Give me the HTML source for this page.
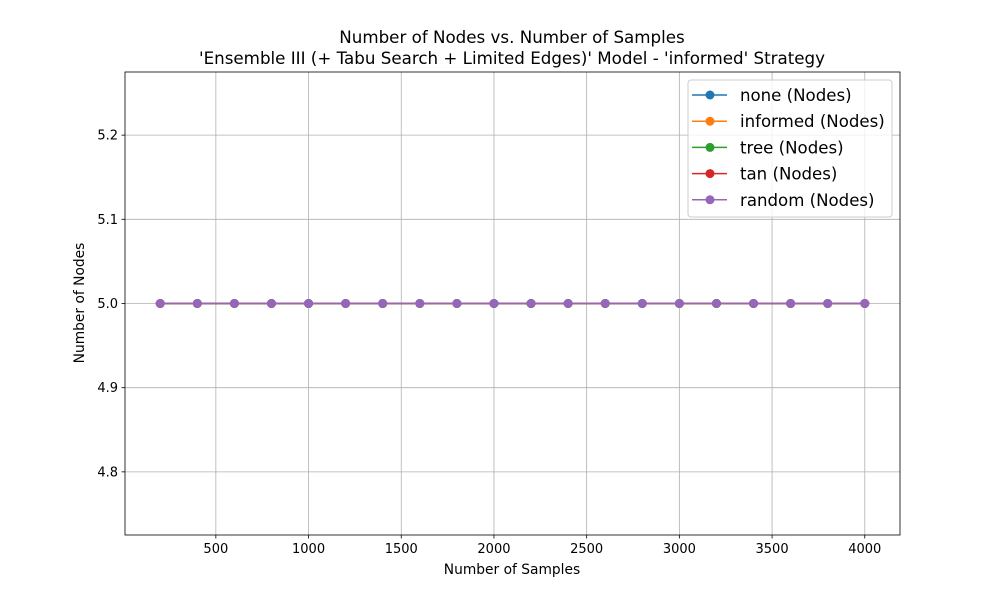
<!DOCTYPE html>
<html><head><meta charset="utf-8"><style>
body{margin:0;background:#fff;font-family:"DejaVu Sans","Liberation Sans",sans-serif;}
svg text{font-family:"DejaVu Sans","Liberation Sans",sans-serif;}
</style></head><body>
<svg id="chart" width="1000" height="600" viewBox="0 0 1000 600" xmlns="http://www.w3.org/2000/svg">
<rect width="1000" height="600" fill="#fff"/>
<g id="grid"></g>
<g id="axes"></g>
<g id="series"></g>
<g id="legend"></g>
<text x="512" y="43" font-size="16.7" text-anchor="middle">Number of Nodes vs. Number of Samples</text>
<text x="512" y="64" font-size="16.7" text-anchor="middle">'Ensemble III (+ Tabu Search + Limited Edges)' Model - 'informed' Strategy</text>
<text x="512" y="574" font-size="13.8" text-anchor="middle">Number of Samples</text>
<text x="84" y="303" font-size="13.8" text-anchor="middle" transform="rotate(-90 84 303)">Number of Nodes</text>
</svg>
<script>
const samples=[200,400,600,800,1000,1200,1400,1600,1800,2000,2200,2400,2600,2800,3000,3200,3400,3600,3800,4000];
const seriesNames=["none (Nodes)","informed (Nodes)","tree (Nodes)","tan (Nodes)","random (Nodes)"];
const noneVals=[5,5,5,5,5,5,5,5,5,5,5,5,5,5,5,5,5,5,5,5];
const informedVals=[5,5,5,5,5,5,5,5,5,5,5,5,5,5,5,5,5,5,5,5];
const treeVals=[5,5,5,5,5,5,5,5,5,5,5,5,5,5,5,5,5,5,5,5];
const tanVals=[5,5,5,5,5,5,5,5,5,5,5,5,5,5,5,5,5,5,5,5];
const randomVals=[5,5,5,5,5,5,5,5,5,5,5,5,5,5,5,5,5,5,5,5];
const xTicks=[500,1000,1500,2000,2500,3000,3500,4000];
const yTicks=[4.8,4.9,5.0,5.1,5.2];
const colors=["#1f77b4","#ff7f0e","#2ca02c","#d62728","#9467bd"];
const L=125,R=900,T=72,B=535,x0=10,x1=4190,y0=4.725,y1=5.275;
const sx=v=>L+(v-x0)/(x1-x0)*(R-L);
const sy=v=>B-(v-y0)/(y1-y0)*(B-T);
const NS="http://www.w3.org/2000/svg";
function mk(tag,attrs,parent){const e=document.createElementNS(NS,tag);for(const k in attrs)e.setAttribute(k,attrs[k]);parent.appendChild(e);return e;}
const grid=document.getElementById('grid'),axes=document.getElementById('axes'),ser=document.getElementById('series'),leg=document.getElementById('legend');
xTicks.forEach(t=>{const x=sx(t);
 let g=mk('line',{x1:x,x2:x,y1:T,y2:B,stroke:'#b0b0b0','stroke-width':0.8},grid);
 
 mk('line',{x1:x,x2:x,y1:B,y2:B+3.5,stroke:'#000','stroke-width':0.8},axes);
 let tx=mk('text',{x:x,y:B+18,'font-size':13,'text-anchor':'middle'},axes);tx.textContent=t;
 });
yTicks.forEach(t=>{const y=sy(t);
 let g=mk('line',{x1:L,x2:R,y1:y,y2:y,stroke:'#b0b0b0','stroke-width':0.8},grid);
 
 mk('line',{x1:L-3.5,x2:L,y1:y,y2:y,stroke:'#000','stroke-width':0.8},axes);
 let tx=mk('text',{x:L-7,y:y+4.5,'font-size':13,'text-anchor':'end'},axes);tx.textContent=t.toFixed(1);
 });
let fr=mk('rect',{x:L,y:T,width:R-L,height:B-T,fill:'none',stroke:'#000','stroke-width':0.8},axes);

const all=[noneVals,informedVals,treeVals,tanVals,randomVals];
all.forEach((vals,i)=>{
 const g=mk('g',{},ser);
 
 mk('polyline',{points:samples.map((s,j)=>sx(s)+','+sy(vals[j])).join(' '),fill:'none',stroke:colors[i],'stroke-width':1.5},g);
 samples.forEach((s,j)=>{const c=mk('circle',{cx:sx(s),cy:sy(vals[j]),r:4.5,fill:colors[i]},g);
  });
});
let lb=mk('rect',{x:688,y:80,width:204,height:137,rx:3,fill:'#fff','fill-opacity':0.8,stroke:'#ccc','stroke-width':1},leg);

seriesNames.forEach((n,i)=>{const y=95+i*26.2;
 const g=mk('g',{},leg);
 
 mk('line',{x1:692,x2:727,y1:y,y2:y,stroke:colors[i],'stroke-width':1.5},g);
 mk('circle',{cx:710,cy:y,r:4.5,fill:colors[i]},g);
 const t=mk('text',{x:740,y:y+6,'font-size':16.6},g);t.textContent=n;});
</script>
</body></html>
